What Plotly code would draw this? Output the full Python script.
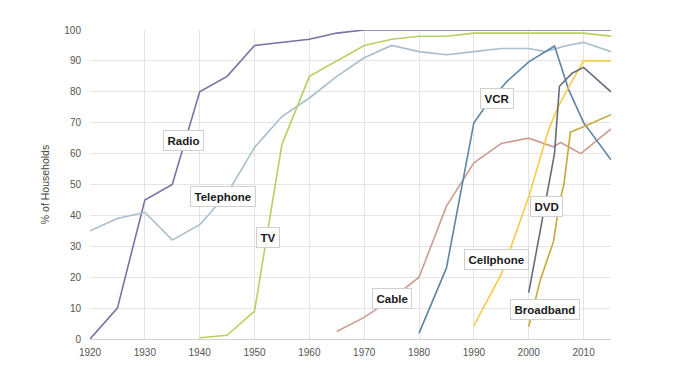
import plotly.graph_objects as go

radio_years = [1920, 1925, 1930, 1935, 1940, 1945, 1950, 1955, 1960, 1965, 1970, 1980, 1990, 2000, 2010, 2015]
radio_vals = [0, 10, 45, 50, 80, 85, 95, 96, 97, 99, 100, 100, 100, 100, 100, 100]

tel_years = [1920, 1925, 1930, 1935, 1940, 1945, 1950, 1955, 1960, 1965, 1970, 1975, 1980, 1985, 1990, 1995, 2000, 2003, 2007, 2010, 2015]
tel_vals = [35, 39, 41, 32, 37, 47, 62, 72, 78, 85, 91, 95, 93, 92, 93, 94, 94, 93, 95, 96, 93]

tv_years = [1940, 1945, 1950, 1955, 1960, 1965, 1970, 1975, 1980, 1985, 1990, 1995, 2000, 2005, 2010, 2015]
tv_vals = [0.4, 1.2, 9, 63, 85, 90, 95, 97, 98, 98, 99, 99, 99, 99, 99, 98]

cable_years = [1965, 1970, 1975, 1980, 1985, 1990, 1995, 2000, 2004.5, 2005.8, 2009.5, 2015]
cable_vals = [2.4, 7, 13, 20, 43, 57, 63.3, 65, 62.2, 63.6, 60, 68]

vcr_years = [1980, 1985, 1990, 1992, 1996, 2000, 2004.7, 2007.3, 2010, 2015]
vcr_vals = [1.9, 23, 70, 75, 83.3, 89.7, 94.8, 80.6, 70, 58]

cell_years = [1990, 1995, 2000, 2003.6, 2005.2, 2007.3, 2010, 2015]
cell_vals = [4.3, 21, 46, 67.6, 74.6, 81.6, 90, 90]

dvd_years = [2000, 2003.2, 2004.7, 2005.6, 2007.9, 2010, 2015]
dvd_vals = [15, 45, 60, 81.8, 86, 87.9, 80]

bb_years = [2000, 2002.1, 2004.5, 2005.6, 2006.4, 2007.6, 2010, 2015]
bb_vals = [4, 19, 31.5, 44, 50, 67, 68.7, 72.6]

series = [
    ("Radio", radio_years, radio_vals, "#7673A6", 1937.1, 64.1),
    ("Telephone", tel_years, tel_vals, "#A9BECD", 1944.2, 46.0),
    ("TV", tv_years, tv_vals, "#B6D160", 1952.5, 32.7),
    ("Cable", cable_years, cable_vals, "#CD9C90", 1975.0, 13.1),
    ("VCR", vcr_years, vcr_vals, "#5D84A5", 1994.2, 77.7),
    ("Cellphone", cell_years, cell_vals, "#F6CB45", 1994.2, 25.6),
    ("DVD", dvd_years, dvd_vals, "#666A7C", 2003.2, 42.9),
    ("Broadband", bb_years, bb_vals, "#C7A838", 2003.0, 9.4),
]

FONT = "Liberation Sans, Arial"

fig = go.Figure()
for name, xs, ys, color, lx, ly in series:
    fig.add_trace(go.Scatter(x=xs, y=ys, mode="lines", name=name,
                             line=dict(color=color, width=1.6), showlegend=False))
    fig.add_annotation(x=lx, y=ly, text="<b>%s</b>" % name, showarrow=False,
                       font=dict(family=FONT, size=11.5, color="#1a1a1a"),
                       bgcolor="white", bordercolor="#CFCFCF", borderwidth=1, borderpad=3.5)

fig.update_layout(
    width=684, height=370,
    margin=dict(l=82, r=81, t=22, b=39),
    paper_bgcolor="white", plot_bgcolor="white",
    font=dict(family=FONT, size=10, color="#555555"),
)
fig.update_xaxes(range=[1920, 2015], tickvals=list(range(1920, 2011, 10)),
                 showgrid=True, gridcolor="#E4E4E4", gridwidth=1,
                 showline=True, linecolor="#D0D0D0", zeroline=False,
                 ticks="outside", ticklen=4, tickcolor="rgba(0,0,0,0)",
                 tickfont=dict(family=FONT, size=10, color="#555555"))
fig.update_yaxes(range=[0, 100], tickvals=list(range(0, 101, 10)),
                 showgrid=True, gridcolor="#E4E4E4", gridwidth=1,
                 zeroline=False, showline=False,
                 ticks="outside", ticklen=6, tickcolor="rgba(0,0,0,0)",
                 tickfont=dict(family=FONT, size=10, color="#555555"),
                 title=dict(text="% of Households", font=dict(family=FONT, size=10.5, color="#444444"), standoff=12))

fig.write_html("out.html")
